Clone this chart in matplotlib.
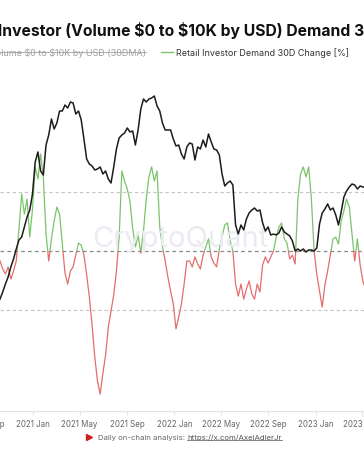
import matplotlib
matplotlib.use("Agg")
import matplotlib.pyplot as plt
import matplotlib.dates as mdates
import matplotlib.transforms as mtransforms
from matplotlib.patches import Rectangle
from matplotlib.lines import Line2D
import pandas as pd

# weekly samples
START = "2020-10-07"
retail_volume = [
    112, 119, 127, 134, 144, 152, 162, 171, 174, 184, 194, 201, 217, 249, 259, 240,
    236, 266, 276, 292, 282, 288, 300, 300, 306, 303, 309, 308, 297, 300, 291, 272,
    252, 247, 245, 241, 242, 244, 237, 240, 232, 228, 244, 262, 273, 276, 278, 283,
    279, 280, 266, 281, 302, 312, 309, 312, 313, 315, 305, 300, 288, 281, 281, 281,
    272, 265, 266, 257, 252, 264, 268, 267, 251, 264, 262, 271, 264, 277, 269, 262,
    261, 256, 237, 225, 228, 230, 226, 186, 177, 186, 181, 192, 198, 201, 203, 200,
    201, 188, 180, 184, 176, 177, 176, 178, 184, 179, 177, 175, 170, 160, 162, 160,
    162, 159, 161, 161, 160, 163, 187, 198, 202, 207, 201, 203, 196, 186, 199, 214,
    220, 224, 227, 226, 222, 225, 224, 224,
]
demand_change = [
    -3.4, -6.1, -7.8, -5.4, -9.5, -6.8, -3.4, 7.5, 19.3, 12.5, 17.6, 4.7, 14.2, 28.5,
    24.4, 32.9, 25.1, 5.8, -3.4, 4.1, 10.2, 14.9, 12.5, 2.4, -7.5, -11.2, -6.8, -5.4,
    -1.4, 2.7, 2.0, -1.4, -8.1, -15.6, -25.1, -35.9, -44.1, -48.5, -41.4, -35.3, -25.8,
    -20.3, -14.9, -6.8, 4.7, 27.1, 23.7, 21.0, 16.9, 7.5, 1.4, 5.4, -0.7, 6.8, 17.6,
    25.1, 28.5, 23.7, 27.1, 8.1, 1.4, -3.4, -8.8, -13.6, -18.0, -26.4, -22.4, -18.0,
    -11.2, -3.4, -3.4, -5.4, -2.0, -4.4, -6.1, -1.4, 1.4, 4.1, -2.0, -4.1, -5.4, 0.7,
    4.7, 8.8, 9.5, 3.4, 0.0, -11.2, -15.3, -11.2, -16.3, -12.9, -10.2, -14.6, -16.3,
    -11.2, -13.9, -4.7, -2.0, -4.1, -2.0, 0.0, 4.7, 8.1, 9.5, 4.1, 2.7, -2.7, -1.4,
    -4.4, 17.6, 26.1, 28.5, 25.1, 28.5, 17.6, 0.0, -7.8, -13.6, -19.0, -11.5, -6.8,
    -1.4, 4.1, 4.7, 2.4, 10.2, 13.6, 17.6, 14.9, 5.8, -3.4, 4.1, -4.7, -10.2, -12.9,
]
ref_levels = [-20, 0, 20]

TITLE = r"Retail Investor (Volume \$0 to \$10K by USD) Demand 30D Change"
LEGEND_HIDDEN = r"Retail Investor Volume \$0 to \$10K by USD (30DMA)"
LEGEND_SHOWN = "Retail Investor Demand 30D Change [%]"

BLACK = "#1c1c1c"
GREEN = "#7cc46c"
RED = "#e46d6d"
GREY = "#666666"
LIGHT = "#e4e4e4"

plt.rcParams["font.family"] = ["Inter", "DejaVu Sans"]

W, H = 364, 460
fig = plt.figure(figsize=(W / 100, H / 100), dpi=100, facecolor="white")
renderer = fig.canvas.get_renderer()


def fit_size(text, target_px, **kw):
    # font size giving a text of the wanted pixel width
    probe = fig.text(0, 0, text, fontsize=10, **kw)
    w = probe.get_window_extent(renderer).width
    probe.remove()
    return 10 * target_px / w


ax = fig.add_axes([0, 48 / H, 1, 342 / H])
ax2 = ax.twinx()

vol_dates = pd.date_range(START, periods=len(retail_volume), freq="7D")
chg_dates = pd.date_range(START, periods=len(demand_change), freq="7D")

# watermark
fig.text(0.495, 1 - 240 / H, "CryptoQuant", fontsize=21, color="#ebebf1",
         ha="center", va="center", zorder=0)

# reference levels
for lvl in ref_levels:
    if lvl == 0:
        ax2.axhline(lvl, color="#8a8a8a", lw=0.9, ls=(0, (3, 2.5)), zorder=1)
    else:
        ax2.axhline(lvl, color="#c4c4c4", lw=0.8, ls=(0, (3, 2.5)), zorder=1)

# demand change, green above zero and red below
blend = mtransforms.blended_transform_factory(ax2.transAxes, ax2.transData)
for color, y0 in [(GREEN, 0), (RED, -1000)]:
    line, = ax2.plot(chg_dates, demand_change, color=color, lw=0.9, zorder=2)
    line.set_clip_path(Rectangle((0, y0), 1, 1000, transform=blend))

ax.plot(vol_dates, retail_volume, color=BLACK, lw=1.1, zorder=3)
ax.set_zorder(ax2.get_zorder() + 1)
ax.patch.set_visible(False)

ax.set_xlim(pd.Timestamp("2020-10-07"), pd.Timestamp("2023-05-06"))
ax.set_ylim(0, 342)
ax2.set_ylim(-54.24, 61.69)

for a in (ax, ax2):
    for s in a.spines.values():
        s.set_visible(False)
    a.set_yticks([])
ax.spines["bottom"].set_visible(True)
ax.spines["bottom"].set_color(LIGHT)

tick_fs = fit_size("2021 Jan", 34)
ax.xaxis.set_major_locator(mdates.MonthLocator(bymonth=[1, 5, 9]))
ax.xaxis.set_major_formatter(mdates.DateFormatter("%Y %b"))
ax.tick_params(axis="x", colors=LIGHT, length=3, pad=3, labelsize=tick_fs,
               labelcolor=GREY)
ax.annotate("2020 Sep", xy=(mdates.date2num(pd.Timestamp("2020-09-01")), 0),
            xycoords=ax.get_xaxis_transform(), xytext=(0, -6),
            textcoords="offset points", ha="center", va="top",
            fontsize=tick_fs, color=GREY, annotation_clip=False)

# title, cropped on both sides like the reference
title_fs = fit_size(r"Investor (Volume \$0 to \$10K by USD) Demand ", 356,
                    fontweight="bold")
probe = fig.text(0, 0, "Retail ", fontsize=title_fs, fontweight="bold")
pre_w = probe.get_window_extent(renderer).width
probe.remove()
fig.text((-2 - pre_w) / W, 1 - 31 / H, TITLE, fontsize=title_fs, fontweight="bold",
         color="#111111", ha="left", va="center")

# legend
ly = 1 - 53 / H
leg_fs = fit_size(LEGEND_SHOWN, 173)
hidden = fig.text(146 / W, ly, LEGEND_HIDDEN, fontsize=leg_fs, color="#a0a0a0",
                  ha="right", va="center")
fig.add_artist(Line2D([161 / W, 173 / W], [ly, ly], color=GREEN, lw=1.0))
fig.text(176 / W, ly, LEGEND_SHOWN, fontsize=leg_fs, color="#333333",
         ha="left", va="center")

# footer
fy = 1 - 438 / H
foot_fs = fit_size("Daily on-chain analysis: https://x.com/AxelAdlerJr", 185)
fig.add_artist(Line2D([88.5 / W], [fy], marker=">", markersize=4, color="#cc1f1f", lw=0))
lead = fig.text(98 / W, fy, "Daily on-chain analysis: ", fontsize=foot_fs, color=GREY,
                ha="left", va="center")
bb = lead.get_window_extent(renderer)
link = fig.text(bb.x1 / W, fy, "https://x.com/AxelAdlerJr", fontsize=foot_fs,
                color="#555555", ha="left", va="center")
lb = link.get_window_extent(renderer)
fig.add_artist(Line2D([lb.x0 / W, lb.x1 / W], [(lb.y0 + 0.5) / H] * 2,
                      color="#555555", lw=0.5))

# strike through the hidden series label
bb = hidden.get_window_extent(renderer)
ymid = (bb.y0 + bb.y1) / 2 / H
fig.add_artist(Line2D([bb.x0 / W, bb.x1 / W], [ymid, ymid], color="#a0a0a0", lw=0.6))

fig.savefig("out.png", dpi=100, facecolor="white")
